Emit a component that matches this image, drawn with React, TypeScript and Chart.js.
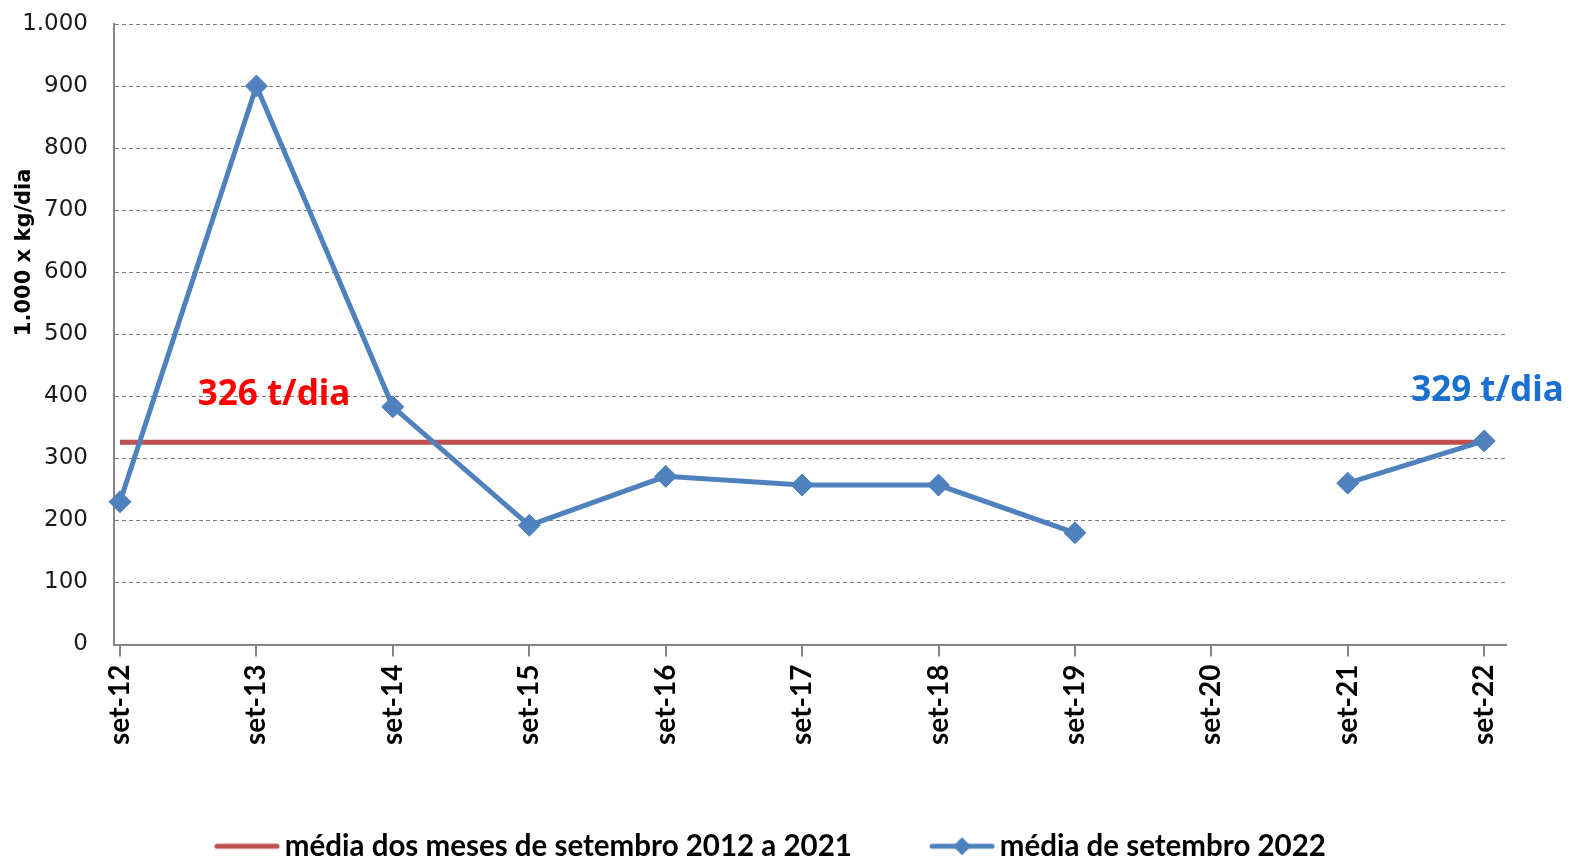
import React, { useEffect, useRef } from 'react';
import { Chart, registerables } from 'chart.js';

Chart.register(...registerables);

const categorias = ['set-12', 'set-13', 'set-14', 'set-15', 'set-16', 'set-17', 'set-18', 'set-19', 'set-20', 'set-21', 'set-22'];
const media2022: (number | null)[] = [230, 900, 383, 192, 271, 257, 257, 180, null, 260, 328];
const mediaHistorica = [326, 326, 326, 326, 326, 326, 326, 326, 326, 326, 326];
const yMin = 0;
const yMax = 1000;
const yStep = 100;
const tituloY = '1.000 x kg/dia';
const rotuloHistorico = '326 t/dia';
const rotulo2022 = '329 t/dia';
const nomeHistorico = 'média dos meses de setembro 2012 a 2021';
const nome2022 = 'média de setembro 2022';

const AZUL = '#4f81bd';
const VERMELHO = '#c0504d';
const CINZA = '#868686';

const fmt = (v: number) => String(v).replace(/\B(?=(\d{3})+(?!\d))/g, '.');

function legendIcon(color: string, diamond: boolean): HTMLCanvasElement {
  const c = document.createElement('canvas');
  c.width = 66;
  c.height = 22;
  const ctx = c.getContext('2d')!;
  ctx.strokeStyle = color;
  ctx.lineWidth = 5;
  ctx.lineCap = 'round';
  ctx.beginPath();
  ctx.moveTo(3, 11);
  ctx.lineTo(63, 11);
  ctx.stroke();
  if (diamond) {
    ctx.fillStyle = color;
    ctx.beginPath();
    ctx.moveTo(33, 2);
    ctx.lineTo(42, 11);
    ctx.lineTo(33, 20);
    ctx.lineTo(24, 11);
    ctx.closePath();
    ctx.fill();
  }
  return c;
}

const textPlugin = {
  id: 'textos',
  afterDatasetsDraw(chart: any) {
    const { ctx, chartArea, scales } = chart;
    const xs = scales.x;
    const ys = scales.y;
    ctx.save();
    ctx.translate(chartArea.left - 89, ys.getPixelForValue(632));
    ctx.rotate(-Math.PI / 2);
    ctx.font = 'bold 21px "DejaVu Sans", sans-serif';
    ctx.fillStyle = '#000';
    ctx.textAlign = 'center';
    ctx.textBaseline = 'middle';
    ctx.fillText(tituloY, 0, 0);
    ctx.restore();

    ctx.save();
    ctx.font = 'bold 35px "Noto Sans", sans-serif';
    ctx.textAlign = 'left';
    ctx.textBaseline = 'alphabetic';
    ctx.fillStyle = '#ff0000';
    ctx.fillText(rotuloHistorico, xs.getPixelForValue(0.57), ys.getPixelForValue(mediaHistorica[0]) - 37);
    ctx.fillStyle = '#1a6fd1';
    const last = media2022[media2022.length - 1] as number;
    ctx.fillText(rotulo2022, xs.getPixelForValue(categorias.length - 1) - 73, ys.getPixelForValue(last) - 40);
    ctx.restore();
  },
};

export default function App() {
  const ref = useRef<HTMLCanvasElement | null>(null);
  useEffect(() => {
    if (!ref.current) return;
    const icons = [legendIcon(AZUL, true), legendIcon(VERMELHO, false)];
    const chart = new Chart(ref.current, {
      type: 'line',
      data: {
        datasets: [
          {
            label: nome2022,
            data: media2022.map((v, i) => ({ x: i, y: v })) as any,
            borderColor: AZUL,
            backgroundColor: AZUL,
            borderWidth: 5,
            pointStyle: 'rectRot',
            pointRadius: 11,
            pointHoverRadius: 11,
            pointBackgroundColor: AZUL,
            pointBorderColor: AZUL,
            pointBorderWidth: 1,
            spanGaps: false,
            tension: 0,
            clip: false,
          },
          {
            label: nomeHistorico,
            data: mediaHistorica.map((v, i) => ({ x: i, y: v })),
            borderColor: VERMELHO,
            backgroundColor: VERMELHO,
            borderWidth: 5,
            pointRadius: 0,
            tension: 0,
            clip: false,
          },
        ],
      },
      options: {
        responsive: false,
        animation: false,
        devicePixelRatio: 1,
        layout: { padding: { top: 24, right: 42, left: 20, bottom: -11 } },
        scales: {
          x: {
            type: 'linear',
            min: -0.044,
            max: 10.16,
            afterBuildTicks: (scale: any) => {
              scale.ticks = categorias.map((_, i) => ({ value: i }));
            },
            afterFit: (scale: any) => {
              scale.height = 100;
            },
            ticks: {
              autoSkip: false,
              maxRotation: 90,
              minRotation: 90,
              padding: 8,
              color: '#000',
              font: { family: 'Lato, sans-serif', weight: 'bold', size: 28 },
              callback: (v: any) => categorias[Math.round(Number(v))] ?? '',
            },
            grid: {
              drawOnChartArea: false,
              drawTicks: true,
              tickLength: 12,
              color: CINZA,
              lineWidth: 2,
            },
            border: { display: true, color: CINZA, width: 2 },
          },
          y: {
            min: yMin,
            max: yMax,
            afterFit: (scale: any) => {
              scale.width = 94;
            },
            ticks: {
              stepSize: yStep,
              padding: 0,
              color: '#1a1a1a',
              font: { family: '"DejaVu Sans", sans-serif', size: 23 },
              callback: (v: any) => fmt(Number(v)),
            },
            grid: {
              drawTicks: true,
              tickLength: 26,
              tickColor: 'rgba(0,0,0,0)',
              color: '#7f7f7f',
              lineWidth: 1,
            },
            border: { display: true, color: CINZA, width: 2, dash: [4, 3] },
          },
          espaco: {
            type: 'linear',
            position: 'right',
            min: yMin,
            max: yMax,
            afterFit: (scale: any) => {
              scale.width = 24;
            },
            ticks: { display: false },
            grid: { display: false, drawOnChartArea: false, drawTicks: false },
            border: { display: false },
          },
        },
        plugins: {
          tooltip: { enabled: false },
          title: { display: false },
          legend: {
            display: true,
            position: 'bottom',
            labels: {
              usePointStyle: true,
              pointStyleWidth: 46,
              padding: 87,
              color: '#000',
              font: { family: 'Lato, sans-serif', weight: 'bold', size: 29.5 },
              generateLabels: (ch: any) => {
                const base = Chart.defaults.plugins.legend.labels.generateLabels(ch);
                return base
                  .map((item: any) => ({ ...item, pointStyle: icons[item.datasetIndex], lineWidth: 0 }))
                  .reverse();
              },
            },
          },
        },
      } as any,
      plugins: [textPlugin],
    });
    return () => chart.destroy();
  }, []);
  return (
    <div style={{ position: 'fixed', left: 0, top: 0, width: 1572, height: 860, background: '#fff' }}>
      <canvas ref={ref} width={1572} height={860} style={{ width: 1572, height: 860, display: 'block' }} />
    </div>
  );
}
